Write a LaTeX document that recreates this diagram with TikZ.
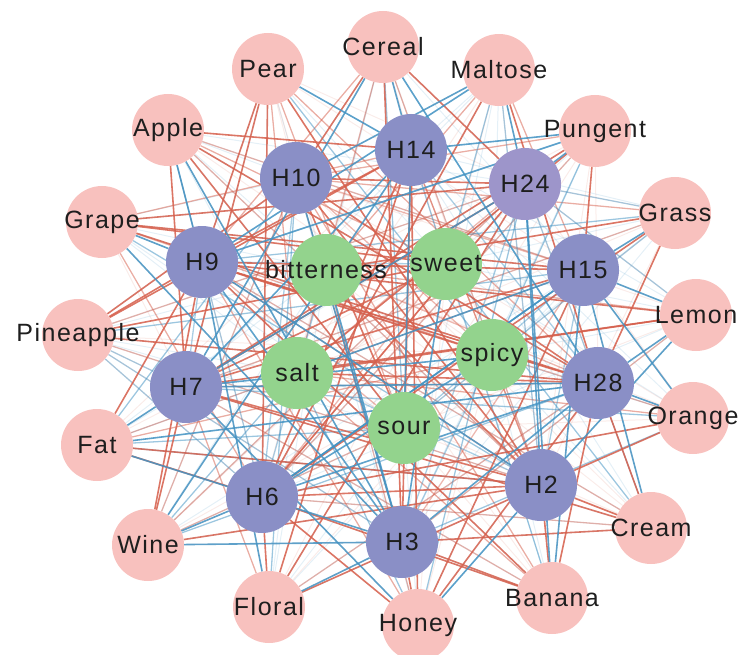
\documentclass[tikz,border=0pt]{standalone}
\usepackage{fontspec}
\setmainfont{Liberation Sans}[LetterSpace=6]
\usetikzlibrary{backgrounds}
\definecolor{pinkc}{HTML}{F8C1BE}
\definecolor{hubc}{HTML}{8A8FC6}
\definecolor{hubd}{HTML}{9D95CA}
\definecolor{greenc}{HTML}{93D38D}
\definecolor{redc}{HTML}{D6604D}
\definecolor{bluec}{HTML}{4393C3}
\definecolor{txtc}{HTML}{1E1E1E}
\newcommand\ztext[1]{\makebox[0pt]{#1}}
\tikzset{
  base/.style={circle, minimum size=72pt, inner sep=0pt, text=txtc,
    font=\fontsize{25}{30}\selectfont},
  pk/.style={base, fill=pinkc},
  hb/.style={base, fill=hubc},
  hbd/.style={base, fill=hubd},
  ts/.style={base, fill=greenc},
  er/.style={draw=redc, line width=1.6pt, opacity=0.85},
  eb/.style={draw=bluec, line width=1.6pt, opacity=0.85},
  mr/.style={draw=redc, line width=1.3pt, opacity=0.45},
  mb/.style={draw=bluec, line width=1.3pt, opacity=0.45},
  fr/.style={draw=redc, line width=1pt, opacity=0.12},
  fb/.style={draw=bluec, line width=1pt, opacity=0.14},
}
\begin{document}
\begin{tikzpicture}[x=1pt,y=-1pt]
\useasboundingbox (0,0) rectangle (744,655);
% outer nodes
\node[pk] (cereal)  at (383,47)  {\ztext{Cereal}};
\node[pk] (pear)    at (268,69)  {\ztext{Pear}};
\node[pk] (maltose) at (499,70)  {\ztext{Maltose}};
\node[pk] (apple)   at (168,130) {\ztext{Apple}};
\node[pk] (pungent) at (595,131) {\ztext{Pungent}};
\node[pk] (grape)   at (102,222) {\ztext{Grape}};
\node[pk] (grass)   at (675,213) {\ztext{Grass}};
\node[pk] (pine)    at (78,335)  {\ztext{Pineapple}};
\node[pk] (lemon)   at (696,315) {\ztext{Lemon}};
\node[pk] (fat)     at (97,445)  {\ztext{Fat}};
\node[pk] (orange)  at (693,418) {\ztext{Orange}};
\node[pk] (wine)    at (148,545) {\ztext{Wine}};
\node[pk] (cream)   at (651,528) {\ztext{Cream}};
\node[pk] (floral)  at (269,607) {\ztext{Floral}};
\node[pk] (banana)  at (552,598) {\ztext{Banana}};
\node[pk] (honey)   at (418,625) {\ztext{Honey}};
% hubs
\node[hb]  (h10) at (296,178) {\ztext{H10}};
\node[hb]  (h14) at (411,150) {\ztext{H14}};
\node[hbd] (h24) at (525,184) {\ztext{H24}};
\node[hb]  (h9)  at (202,262) {\ztext{H9}};
\node[hb]  (h15) at (583,270) {\ztext{H15}};
\node[hb]  (h7)  at (186,387) {\ztext{H7}};
\node[hb]  (h28) at (598,383) {\ztext{H28}};
\node[hb]  (h6)  at (262,497) {\ztext{H6}};
\node[hb]  (h2)  at (541,485) {\ztext{H2}};
\node[hb]  (h3)  at (402,542) {\ztext{H3}};
% tastes
\node[ts] (bit) at (326,270) {\ztext{bitterness}};
\node[ts] (swe) at (446,264) {\ztext{sweet}};
\node[ts] (sal) at (297,373) {\ztext{salt}};
\node[ts] (spi) at (492,355) {\ztext{spicy}};
\node[ts] (sou) at (404,428) {\ztext{sour}};

\begin{scope}[on background layer]
% faint haze
\foreach \p [count=\i] in {pear,cereal,maltose,apple,pungent,grape,grass,pine,lemon,fat,orange,wine,cream,floral,banana,honey}
  \foreach \h [count=\j] in {h10,h14,h24,h9,h15,h7,h28,h6,h2,h3,bit,swe,sal,spi,sou}
  {\ifodd\numexpr\i+\j\relax \draw[fb] (\p) -- (\h); \else \draw[fr] (\p) -- (\h); \fi}
% medium red
\foreach \a/\b in {pear/sou,pear/sal,cereal/h9,cereal/h2,cereal/sal,maltose/h15,maltose/bit,
  apple/h15,apple/swe,pungent/h10,pungent/h6,grape/h14,grape/spi,grass/h7,grass/h10,
  pine/h24,lemon/bit,lemon/h3,fat/spi,orange/h9,orange/sal,wine/h10,wine/sou,cream/h6,
  floral/h7,floral/h28,banana/sal,banana/h10,honey/bit,h14/h2,h10/h15,h9/h2,h7/h28,
  h6/h24,h3/h10,h2/h14,bit/h28,swe/h6,sal/h24,spi/h10,sou/h9,h15/h3,h28/h9,
  pear/h28,apple/h2,grape/h6,pine/h2,fat/h15,wine/h24,honey/h9,banana/h7,cream/h9}
  \draw[mr] (\a) -- (\b);
% medium blue
\foreach \a/\b in {pear/spi,cereal/sou,maltose/h2,maltose/swe,apple/h6,pungent/spi,
  grape/h2,grass/sou,grass/h24,pine/h7,pine/h6,pine/h3,lemon/h24,fat/h10,fat/sou,
  orange/h7,wine/h28,cream/h24,cream/swe,floral/h10,banana/h14,honey/h24,
  h10/h6,h9/h7,h15/h2,h24/h3,bit/h6,swe/h9,sal/h2,spi/h3,sou/h15,h14/h28,
  pine/h15,fat/h2,wine/sal,honey/sal,grass/h9,orange/h3}
  \draw[mb] (\a) -- (\b);
% strong red
\foreach \a/\b in {pear/h9,pear/h7,pear/h6,pear/h2,cereal/h10,cereal/h3,cereal/h24,
  maltose/h28,maltose/h6,apple/h14,apple/h28,apple/sou,apple/h7,pungent/h15,pungent/h7,
  pungent/sal,grape/h24,grape/h15,grape/swe,grape/h28,grass/h28,grass/h6,grass/bit,
  pine/h9,pine/h10,pine/h14,pine/swe,pine/h28,lemon/h7,lemon/h9,lemon/sal,fat/h9,
  fat/h6,fat/h2,orange/h2,orange/h6,wine/h9,wine/h7,wine/h2,cream/h28,cream/h2,
  cream/h7,cream/h3,floral/h6,floral/h14,floral/h2,floral/h24,banana/h2,banana/h28,
  banana/h6,banana/h9,banana/h3,honey/h3,honey/h6,honey/h28,honey/h15,honey/h14,
  h10/h28,h14/h6,h9/h15,h7/h15,h7/h2,h10/h2,h14/h3,h24/h7,h24/h6,h9/h28,
  bit/h2,swe/h7,sal/h28,spi/h9,sou/h10,h10/h24,h6/h2,h14/h9}
  \draw[er] (\a) -- (\b);
% strong blue
\foreach \a/\b in {pear/h14,cereal/h7,cereal/h14,cereal/h28,maltose/h10,maltose/h9,
  maltose/h24,apple/h9,apple/h3,pungent/h24,pungent/h14,pungent/h9,grape/h9,grape/h3,
  grass/h15,lemon/h15,lemon/h28,lemon/h2,fat/h7,fat/h28,fat/h3,orange/h28,orange/h15,
  wine/h6,wine/h3,wine/h14,cream/h15,floral/h9,floral/h3,banana/h15,banana/h24,
  honey/h2,honey/h7,h14/h7,h10/h3,h24/h2,h15/h6,h9/h3,h28/h7,h14/sou,h6/spi,h3/swe,
  h2/h9,h28/h6,bit/h3,sal/h15,spi/h7,h7/h24,h6/h15,h3/h28}
  \draw[eb] (\a) -- (\b);
\end{scope}
\end{tikzpicture}
\end{document}
